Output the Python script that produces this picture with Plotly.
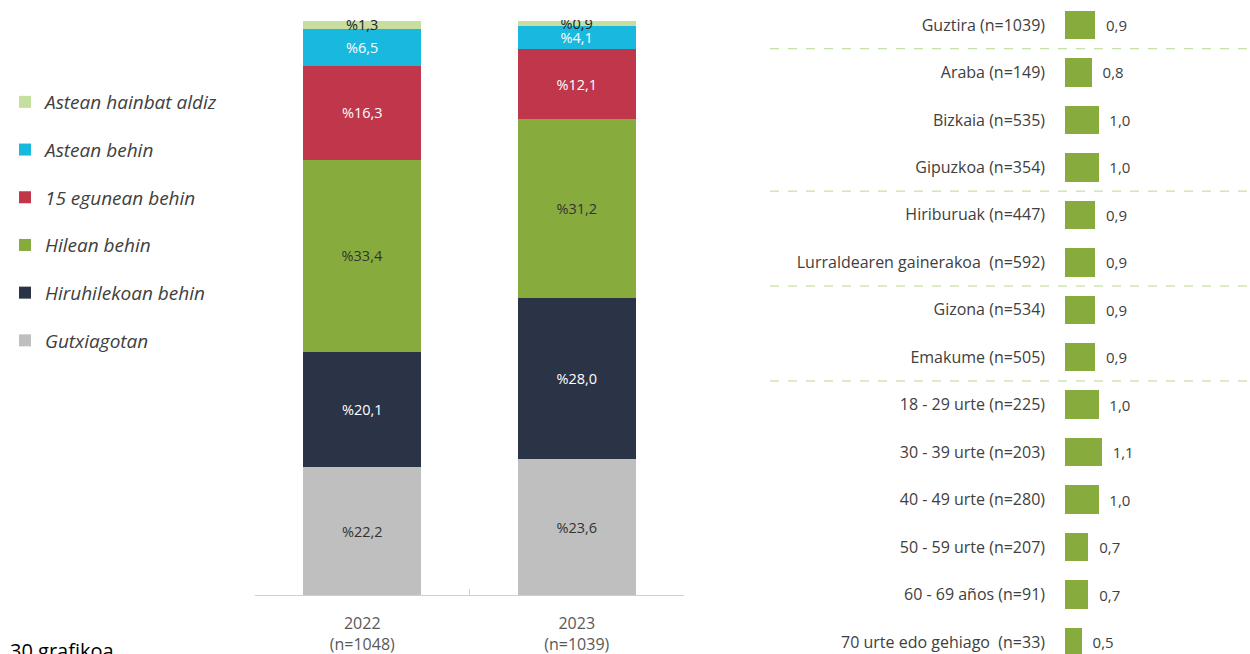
import plotly.graph_objects as go

W, H = 1250, 654

# ---- Left chart data ----
years = ["2022<br>(n=1048)", "2023<br>(n=1039)"]
series_names = ["Gutxiagotan", "Hiruhilekoan behin", "Hilean behin",
                "15 egunean behin", "Astean behin", "Astean hainbat aldiz"]
gutxiagotan = [22.2, 23.6]
hiruhilekoan = [20.1, 28.0]
hilean = [33.4, 31.2]
egunean15 = [16.3, 12.1]
astean_behin = [6.5, 4.1]
astean_hainbat = [1.3, 0.9]
series_values = [gutxiagotan, hiruhilekoan, hilean, egunean15, astean_behin, astean_hainbat]
series_colors = ["#bfbfbf", "#2b3346", "#87ac3d", "#c0364b", "#18b8df", "#c6df9f"]
text_colors = ["#333333", "#ffffff", "#333333", "#ffffff", "#ffffff", "#222222"]

# ---- Right chart data ----
groups = ["Guztira (n=1039)", "Araba (n=149)", "Bizkaia (n=535)", "Gipuzkoa (n=354)",
          "Hiriburuak (n=447)", "Lurraldearen gainerakoa  (n=592)", "Gizona (n=534)",
          "Emakume (n=505)", "18 - 29 urte (n=225)", "30 - 39 urte (n=203)",
          "40 - 49 urte (n=280)", "50 - 59 urte (n=207)", "60 - 69 años (n=91)",
          "70 urte edo gehiago  (n=33)"]
group_values = [0.9, 0.8, 1.0, 1.0, 0.9, 0.9, 0.9, 0.9, 1.0, 1.1, 1.0, 0.7, 0.7, 0.5]
separators_after = [0, 3, 5, 7]  # dashed line after these group indices

FONT = "Open Sans"

fig = go.Figure()

n_series = len(series_names)
for k, (name, vals, col, tcol) in enumerate(zip(series_names, series_values, series_colors, text_colors)):
    fig.add_trace(go.Bar(
        x=years, y=vals, name=name, legendgroup=name, legendrank=n_series - k,
        marker=dict(color=col, line=dict(width=0)),
        width=0.55, texttemplate="%%{y:.1f}", textposition="inside",
        insidetextanchor="middle", textangle=0,
        textfont=dict(color=tcol, size=14.5, family=FONT),
        xaxis="x", yaxis="y", showlegend=True,
    ))

ypos = list(range(len(groups)))
fig.add_trace(go.Bar(
    x=group_values, y=ypos, orientation="h", marker=dict(color="#87ac3d", line=dict(width=0)),
    width=0.6, texttemplate="\u00a0\u00a0%{x:.1f}", textposition="outside",
    textfont=dict(color="#404040", size=15, family=FONT), cliponaxis=False,
    xaxis="x2", yaxis="y2", showlegend=False,
))

shapes = []
for i in separators_after:
    shapes.append(dict(type="line", xref="paper", yref="y2", x0=770 / W, x1=1.0,
                       y0=i + 0.5, y1=i + 0.5,
                       line=dict(color="#b7d98f", width=1, dash="dash")))

fig.update_layout(
    width=W, height=H,
    margin=dict(l=0, r=0, t=0, b=0, autoexpand=False),
    paper_bgcolor="white", plot_bgcolor="white",
    barmode="stack", separators=",.",
    uniformtext=dict(minsize=14.5, mode="show"),
    font=dict(family=FONT, color="#404040"),
    xaxis=dict(domain=[255 / W, 684 / W], range=[-0.5, 1.5], showline=True,
               linecolor="#d0d0d0", linewidth=1, ticks="inside", ticklen=6,
               tickcolor="#d0d0d0", tickson="boundaries", showgrid=False,
               tickfont=dict(size=16, color="#595959", family=FONT),
               ticklabelstandoff=14, anchor="y", fixedrange=True),
    yaxis=dict(domain=[(H - 595) / H, (H - 20) / H], range=[0, 100],
               visible=False, anchor="x"),
    xaxis2=dict(domain=[1065 / W, 1.0], range=[0, 185 / 33.5], visible=False,
                anchor="y2"),
    yaxis2=dict(domain=[0, 1], range=[13 + (H - 642) / 47.46, -25 / 47.46],
                tickvals=ypos, ticktext=groups, showgrid=False, showline=False,
                ticks="", zeroline=False, ticklabelstandoff=19,
                tickfont=dict(size=16, color="#404040", family=FONT),
                anchor="x2"),
    legend=dict(x=5 / W, y=(H - 83) / H, xanchor="left", yanchor="top",
                traceorder="grouped", tracegroupgap=20,
                font=dict(size=19, color="#404040", family=FONT, style="italic"),
                itemwidth=30, bgcolor="rgba(0,0,0,0)"),
    shapes=shapes,
    annotations=[dict(text="30 grafikoa", xref="paper", yref="paper",
                      x=8 / W, y=(H - 635) / H, xanchor="left", yanchor="top",
                      showarrow=False, font=dict(size=20, color="#000000", family=FONT))],
)

fig.write_html("out.html", config={"displayModeBar": False},
               post_script="document.body.style.margin='0';document.body.style.overflow='hidden';")
